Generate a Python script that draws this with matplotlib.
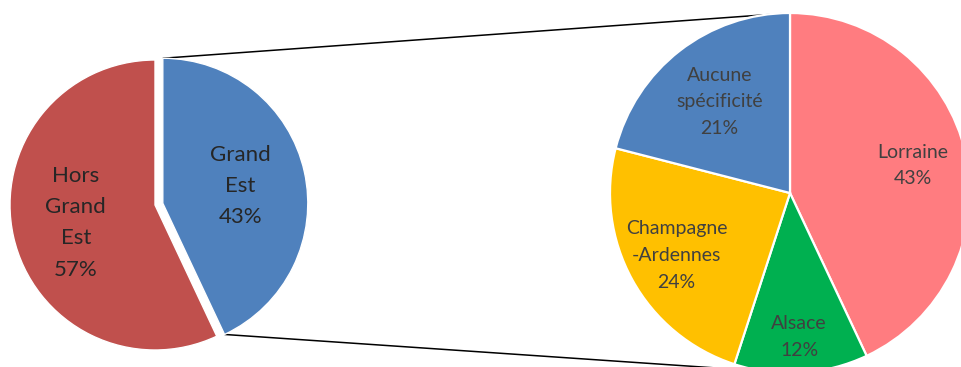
import numpy as np
import matplotlib.pyplot as plt

# Origine des stagiaires : Grand Est vs hors Grand Est, puis détail du Grand Est
main_labels = ['Grand\nEst', 'Hors\nGrand\nEst']
main_values = [43, 57]
main_colors = ['#4F81BD', '#C0504D']

sub_labels = ['Lorraine', 'Alsace', 'Champagne\n-Ardennes', 'Aucune\nspécificité']
sub_values = [43, 12, 24, 21]
sub_colors = ['#FF7C80', '#00B050', '#FFC000', '#4F81BD']

plt.rcParams['font.family'] = ['Lato', 'DejaVu Sans']

fig = plt.figure(figsize=(9.62, 3.67), dpi=100)
ax = fig.add_axes([0, 0, 1, 1])

# left pie, Grand Est slice pulled out (explode is in data units here)
c1, r1 = (155, 162), 145
explode = [8, 0]
w1, _ = ax.pie(main_values, colors=main_colors, startangle=90, counterclock=False,
               center=c1, radius=r1, explode=explode, frame=True,
               wedgeprops=dict(edgecolor='white', linewidth=1.0))

# right pie, breakdown of Grand Est
c2, r2 = (790, 174), 180
w2, _ = ax.pie(sub_values, colors=sub_colors, startangle=90, counterclock=False,
               center=c2, radius=r2, frame=True,
               wedgeprops=dict(edgecolor='white', linewidth=1.6))
ax.set_xlim(0, 962)
ax.set_ylim(0, 367)
ax.set_aspect('equal')
ax.axis('off')


def label_pos(wedge, frac):
    th = np.deg2rad((wedge.theta1 + wedge.theta2) / 2)
    cx, cy = wedge.center
    return cx + frac * wedge.r * np.cos(th), cy + frac * wedge.r * np.sin(th)


for w, lab, v, frac in zip(w1, main_labels, main_values, [0.55, 0.56]):
    x, y = label_pos(w, frac)
    ax.text(x, y, f'{lab}\n{v}%', ha='center', va='center', fontsize=16,
            color='#262626', linespacing=1.7)

for w, lab, v, frac in zip(w2, sub_labels, sub_values, [0.70, 0.80, 0.72, 0.64]):
    x, y = label_pos(w, frac)
    ax.text(x, y, f'{lab}\n{v}%', ha='center', va='center', fontsize=14,
            color='#404040', linespacing=1.7)

# connector lines from the pulled-out slice to the right pie
gw = w1[0]
gx, gy = gw.center
a_top, a_bot = np.deg2rad(gw.theta2), np.deg2rad(gw.theta1)
p_top = (gx + gw.r * np.cos(a_top), gy + gw.r * np.sin(a_top))
p_bot = (gx + gw.r * np.cos(a_bot), gy + gw.r * np.sin(a_bot))
ax.plot([p_top[0], c2[0]], [p_top[1], c2[1] + r2], color='black', lw=1.1,
        solid_capstyle='butt', zorder=0)
ax.plot([p_bot[0], c2[0]], [p_bot[1], c2[1] - r2], color='black', lw=1.1,
        solid_capstyle='butt', zorder=0)

fig.savefig('out.png', dpi=100)
